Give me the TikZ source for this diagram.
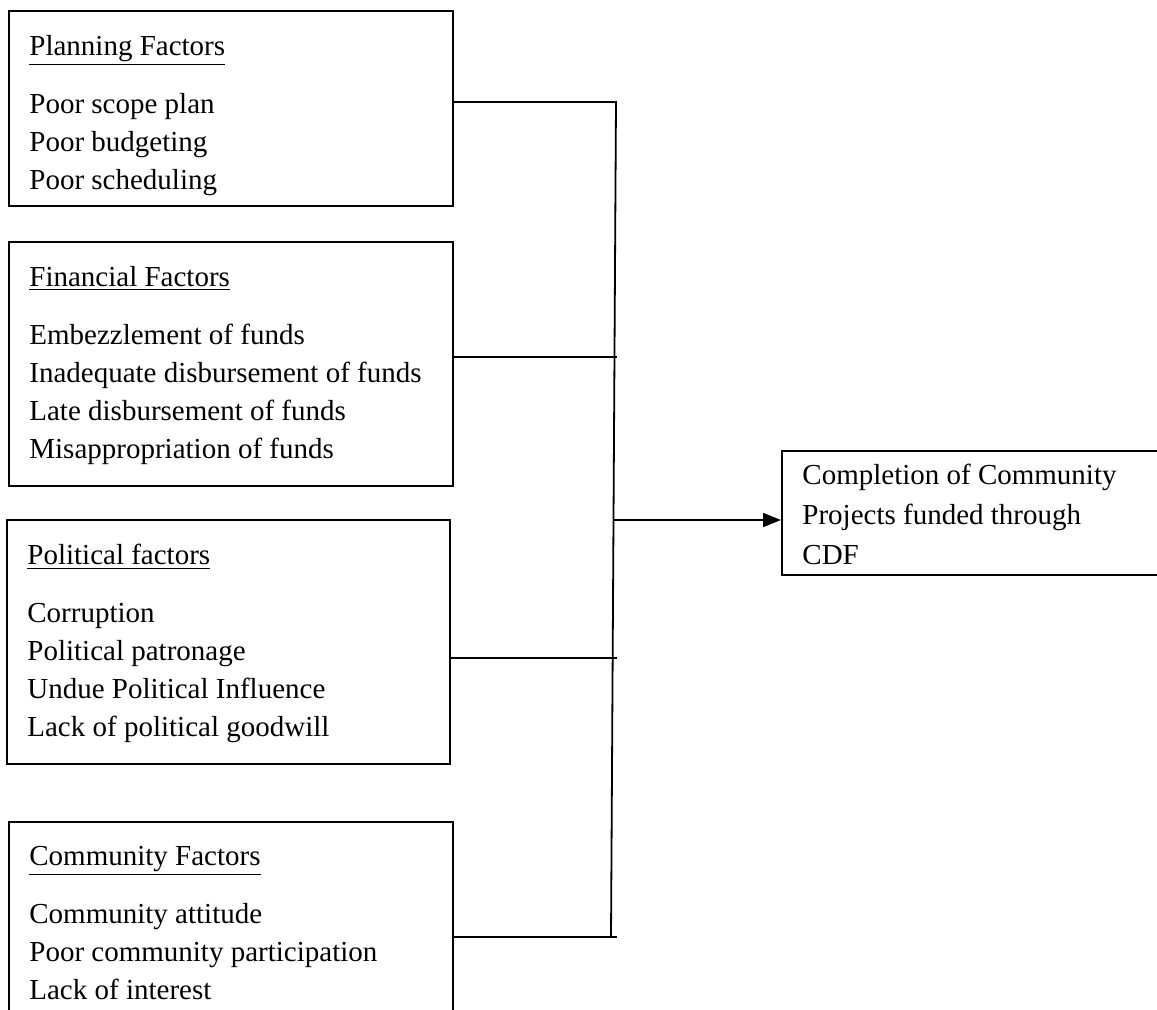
\documentclass[tikz,border=0pt]{standalone}
\usepackage{fontspec}
\setmainfont{Liberation Serif}
\usetikzlibrary{arrows.meta}

\tikzset{
	factorbox/.style={draw, line width=0.9pt, anchor=north west, inner sep=0pt},
	factortext/.style={anchor=north west, inner sep=0pt, align=left, font=\fontsize{14.5}{19}\selectfont},
	link/.style={line width=0.9pt},
}

\begin{document}
\begin{tikzpicture}[x=0.5pt, y=-0.5pt]

	\useasboundingbox (0,0) rectangle (1157,1009);
	\clip (0,0) rectangle (1157,1009);

	% factor boxes
	\node[factorbox, minimum width=222pt, minimum height=97.5pt] (plan) at (8,10) {};
	\node[factorbox, minimum width=222pt, minimum height=122pt] (fin) at (8,241) {};
	\node[factorbox, minimum width=221.5pt, minimum height=122pt] (pol) at (6,519) {};
	\node[factorbox, minimum width=222pt, minimum height=100pt] (com) at (8,821) {};
	\node[factorbox, minimum width=200pt, minimum height=62pt] (out) at (781,450) {};

	\node[factortext] (plantxt) at ([shift={(21,25)}]plan.north west)
		{\underline{Planning Factors}\\[10pt] Poor scope plan\\ Poor budgeting\\ Poor scheduling};
	\node[factortext] (fintxt) at ([shift={(21,25)}]fin.north west)
		{\underline{Financial Factors}\\[10pt] Embezzlement of funds\\ Inadequate disbursement of funds\\ Late disbursement of funds\\ Misappropriation of funds};
	\node[factortext] (poltxt) at ([shift={(21,25)}]pol.north west)
		{\underline{Political factors}\\[10pt] Corruption\\ Political patronage\\ Undue Political Influence\\ Lack of political goodwill};
	\node[factortext] (comtxt) at ([shift={(21,25)}]com.north west)
		{\underline{Community Factors}\\[10pt] Community attitude\\ Poor community participation\\ Lack of interest};
	\node[factortext] (outtxt) at ([shift={(21,14)}]out.north west)
		{Completion of Community\\[1pt] Projects funded through\\[1pt] CDF};

	% bus line
	\coordinate (bustop) at (616,102);
	\coordinate (busbot) at (611,937);
	\coordinate (tapfin) at (617,357);
	\coordinate (tappol) at (617,658);
	\coordinate (tapcom) at (617,937);
	\coordinate (tapout) at (613,520);

	\draw[link] (plan.east |- bustop) -- (bustop) -- (busbot);
	\draw[link] (fin.east |- tapfin) -- (tapfin);
	\draw[link] (pol.east |- tappol) -- (tappol);
	\draw[link] (com.east |- tapcom) -- (tapcom);
	\draw[link, -{Triangle[length=9pt, width=7pt]}] (tapout) -- (out.west |- tapout);

\end{tikzpicture}
\end{document}
